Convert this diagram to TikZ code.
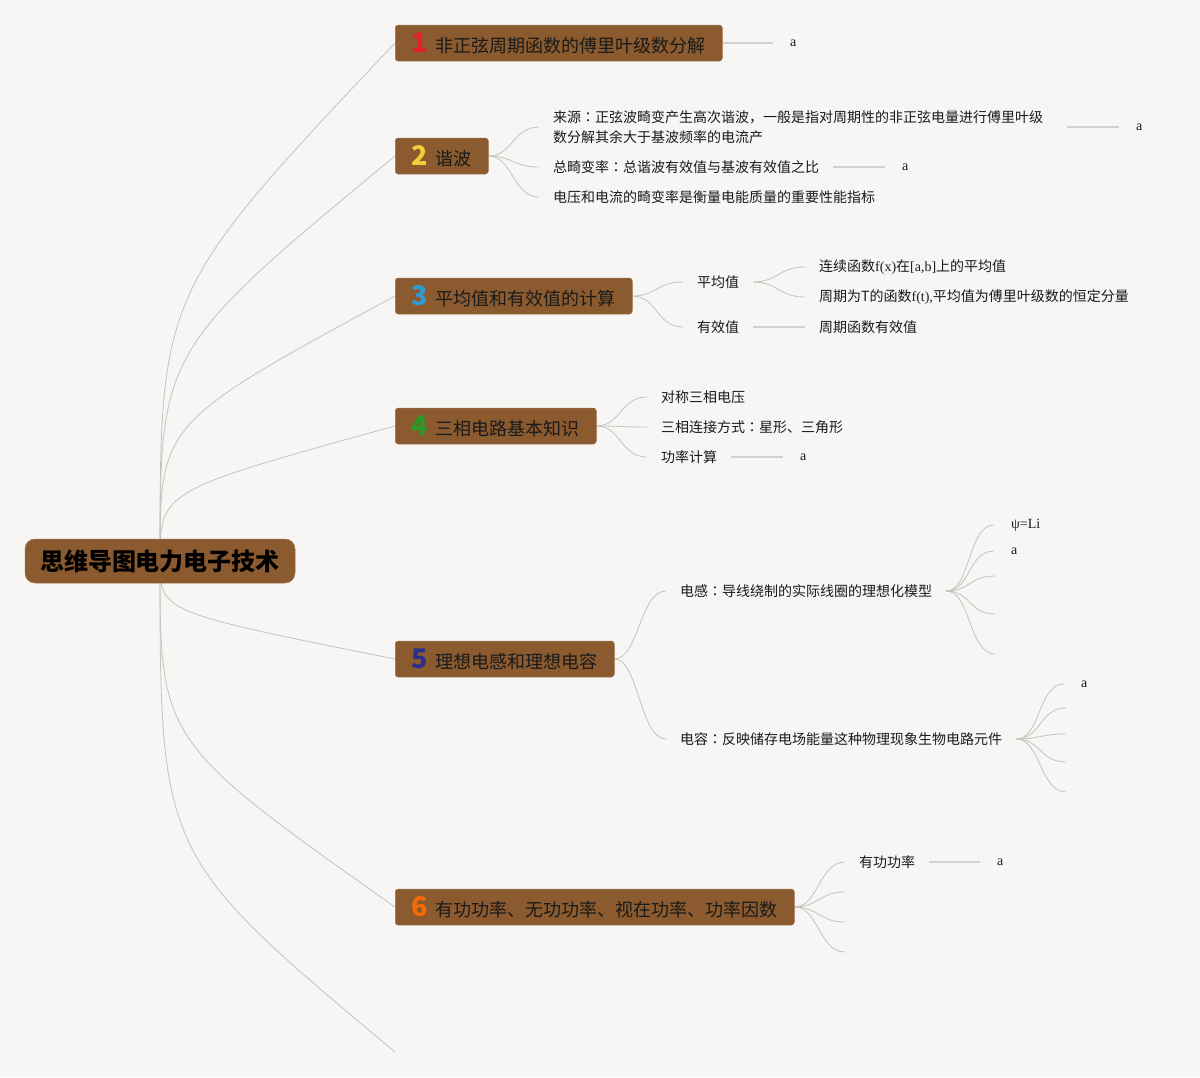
\documentclass[tikz,border=0pt]{standalone}
\usepackage{fontspec}
\setmainfont{Noto Sans CJK SC}
\newfontfamily\lat{Liberation Serif}
\newfontfamily\jpf{Noto Sans CJK JP}
\usetikzlibrary{calc}
\pgfdeclarelayer{background}
\pgfsetlayers{background,main}
\definecolor{bg}{HTML}{F7F6F4}
\definecolor{brownf}{HTML}{8B5A2E}
\definecolor{txt}{HTML}{1A1A1A}
\definecolor{linec}{HTML}{C6C2BD}
\definecolor{stubc}{HTML}{D3D1CE}
\definecolor{cone}{HTML}{E6202A}
\definecolor{ctwo}{HTML}{F2CF3A}
\definecolor{cthree}{HTML}{2E9AD6}
\definecolor{cfour}{HTML}{2B9A2B}
\definecolor{cfive}{HTML}{2B2F8C}
\definecolor{csix}{HTML}{F26A0A}
\newcommand\topicnum[2]{{\fontsize{27}{27}\selectfont\bfseries\color{#1}#2}\hspace{8pt}}
\newcommand\cln{{\jpf ：}}
\begin{document}
\begin{tikzpicture}[x=1pt,y=-1pt,
  topic/.style={fill=brownf, draw=brownf!85!white, line width=0.5pt, rounded corners=3pt, minimum height=36pt, anchor=west, inner xsep=0pt, inner ysep=0pt, font=\fontsize{18}{22}\selectfont, text=txt},
  rootn/.style={fill=brownf, draw=brownf!85!white, line width=0.5pt, rounded corners=10pt, minimum width=270pt, minimum height=44pt, font=\fontsize{24}{28}\selectfont\bfseries, text=black},
  leaf/.style={anchor=west, inner xsep=14pt, inner ysep=2pt, font=\fontsize{14}{20}\selectfont, text=txt},
  aleaf/.style={anchor=west, inner xsep=17pt, inner ysep=2pt, font=\lat\fontsize{14}{20}\selectfont, text=txt},
  conn/.style={draw=linec, line width=0.8pt},
  stub/.style={draw=stubc, line width=1.4pt}]
\begin{pgfonlayer}{background}
\fill[bg] (0,0) rectangle (1200,1077);
\end{pgfonlayer}
\useasboundingbox (0,0) rectangle (1200,1077);

% root
\node[rootn] (root) at (160,561) {思维导图电力电子技术};

% main topics
\node[topic, minimum width=327pt] (n1) at (395,43) {\topicnum{cone}{1}非正弦周期函数的傅里叶级数分解};
\node[topic, minimum width=93pt] (n2) at (395,156) {\topicnum{ctwo}{2}谐波};
\node[topic, minimum width=237pt] (n3) at (395,296) {\topicnum{cthree}{3}平均值和有效值的计算};
\node[topic, minimum width=201pt] (n4) at (395,426) {\topicnum{cfour}{4}三相电路基本知识};
\node[topic, minimum width=219pt] (n5) at (395,659) {\topicnum{cfive}{5}理想电感和理想电容};
\node[topic, minimum width=399pt] (n6) at (395,907) {\topicnum{csix}{6}有功功率、无功功率、视在功率、功率因数};
\coordinate (n7) at (395,1052);

% topic 1
\node[aleaf] (a1) at (773,43) {a};

% topic 2
\node[leaf, text width=500pt, align=left] (l2a) at (539,127) {来源\cln 正弦波畸变产生高次谐波，一般是指对周期性的非正弦电量进行傅里叶级\\数分解其余大于基波频率的电流产};
\node[leaf] (l2b) at (539,167) {总畸变率\cln 总谐波有效值与基波有效值之比};
\node[leaf] (l2c) at (539,197) {电压和电流的畸变率是衡量电能质量的重要性能指标};
\node[aleaf] (a2a) at (1119,127) {a};
\node[aleaf] (a2b) at (885,167) {a};

% topic 3
\node[leaf] (l3a) at (683,282) {平均值};
\node[leaf] (l3b) at (683,327) {有效值};
\node[leaf] (l3a1) at (805,267) {连续函数{\lat f(x)}在{\lat [a,b]}上的平均值};
\node[leaf] (l3a2) at (805,297) {周期为T的函数{\lat f(t),}平均值为傅里叶级数的恒定分量};
\node[leaf] (l3b1) at (805,327) {周期函数有效值};

% topic 4
\node[leaf] (l4a) at (647,397) {对称三相电压};
\node[leaf] (l4b) at (647,427) {三相连接方式\cln 星形、三角形};
\node[leaf] (l4c) at (647,457) {功率计算};
\node[aleaf] (a4c) at (783,457) {a};

% topic 5
\node[leaf] (l5a) at (666,591) {电感\cln 导线绕制的实际线圈的理想化模型};
\node[leaf] (l5b) at (666,739) {电容\cln 反映储存电场能量这种物理现象生物电路元件};
\node[aleaf] (a5a1) at (994,525) {ψ=Li};
\node[aleaf] (a5a2) at (994,551) {a};
\coordinate (e5a3) at (995,576);
\coordinate (e5a4) at (995,614);
\coordinate (e5a5) at (995,654);
\node[aleaf] (a5b1) at (1064,684) {a};
\coordinate (e5b2) at (1066,708);
\coordinate (e5b3) at (1066,734);
\coordinate (e5b4) at (1066,762);
\coordinate (e5b5) at (1066,792);

% topic 6
\node[leaf] (l6a) at (845,862) {有功功率};
\node[aleaf] (a6a) at (980,862) {a};
\coordinate (e6b) at (845,892);
\coordinate (e6c) at (845,922);
\coordinate (e6d) at (845,952);

\begin{pgfonlayer}{background}
  % root connectors
  \foreach \t in {n1,n2,n3,n4,n5,n6} {
    \draw[conn] (root.center) .. controls ($(root.center)!0.52!(root.center |- \t.west)$) .. (\t.west);
  }
  \draw[conn] (root.center) .. controls ($(root.center)!0.6!(root.center |- n7)$) .. (n7);

  % S-curves
  \foreach \p/\c in {n2/l2a, n2/l2b, n2/l2c, n3/l3a, n3/l3b, l3a/l3a1, l3a/l3a2, n4/l4a, n4/l4b, n4/l4c, n5/l5a, n5/l5b, l5a/a5a1, l5a/a5a2, l5b/a5b1, n6/l6a} {
    \draw[conn] (\p.east) .. controls +(24,0) and +(-26,0) .. (\c.west);
  }
  \foreach \p/\c in {l5a/e5a3, l5a/e5a4, l5a/e5a5, l5b/e5b2, l5b/e5b3, l5b/e5b4, l5b/e5b5, n6/e6b, n6/e6c, n6/e6d} {
    \draw[conn] (\p.east) .. controls +(24,0) and +(-26,0) .. (\c);
  }

  % straight stubs
  \draw[stub] (n1.east) -- (a1.west);
  \draw[stub] (l2a.east) -- (a2a.west);
  \draw[stub] (l2b.east) -- (a2b.west);
  \draw[stub] (l3b.east) -- (l3b1.west);
  \draw[stub] (l4c.east) -- (a4c.west);
  \draw[stub] (l6a.east) -- (a6a.west);
\end{pgfonlayer}
\end{tikzpicture}
\end{document}
